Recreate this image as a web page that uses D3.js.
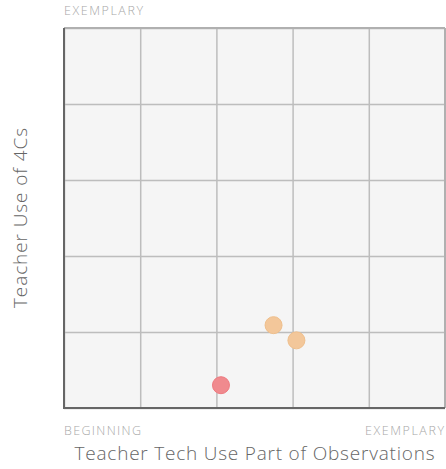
<!DOCTYPE html>
<html>
<head>
<meta charset="utf-8">
<script src="https://cdn.jsdelivr.net/npm/d3@7"></script>
<style>
  html, body { margin: 0; padding: 0; background: #ffffff; }
  svg { display: block; font-family: "Open Sans", Lato, sans-serif; }
</style>
</head>
<body>
<svg id="chart" width="446" height="469"></svg>
<script>
// ---- data ----
const pointNames = ["Observation A", "Observation B", "Observation C"];
const techUse   = [2.06, 2.75, 3.05];   // x: Teacher Tech Use Part of Observations
const use4Cs    = [0.30, 1.09, 0.89];   // y: Teacher Use of 4Cs
const levels    = ["low", "mid", "mid"];
const levelColors = { low: "#f08a8e", mid: "#f3c79a" };
const levelStrokes = { low: "#ee7a80", mid: "#efbf8c" };
const gridTicks = [0, 1, 2, 3, 4, 5];
const xEndLabels = ["BEGINNING", "EXEMPLARY"];
const yTopLabel = "EXEMPLARY";
const xTitle = "Teacher Tech Use Part of Observations";
const yTitle = "Teacher Use of 4Cs";

// ---- layout ----
const svg = d3.select("#chart");
const pL = 64, pR = 445, pT = 28, pB = 408;

const x = d3.scaleLinear().domain([0, 5]).range([pL, pR]);
const y = d3.scaleLinear().domain([0, 5]).range([pB, pT]);

// background
svg.append("rect")
  .attr("x", pL).attr("y", pT)
  .attr("width", pR - pL).attr("height", pB - pT)
  .attr("fill", "#f5f5f5");

// grid via axes
const gx = svg.append("g")
  .attr("transform", `translate(0,${pB})`)
  .call(d3.axisBottom(x).tickValues(gridTicks).tickSize(-(pB - pT)).tickFormat(""));
const gy = svg.append("g")
  .attr("transform", `translate(${pL},0)`)
  .call(d3.axisLeft(y).tickValues(gridTicks).tickSize(-(pR - pL)).tickFormat(""));
[gx, gy].forEach(g => {
  g.select(".domain").remove();
  g.selectAll(".tick line").attr("stroke", "#bdbdbd").attr("stroke-width", 1.5);
});

// outer border (top/right lighter)
svg.append("line").attr("x1", pL).attr("x2", pR).attr("y1", pT).attr("y2", pT)
  .attr("stroke", "#b0b0b0").attr("stroke-width", 2);
svg.append("line").attr("x1", pR).attr("x2", pR).attr("y1", pT).attr("y2", pB)
  .attr("stroke", "#b0b0b0").attr("stroke-width", 2);
// left / bottom axis lines
svg.append("line").attr("x1", pL).attr("x2", pL).attr("y1", pT).attr("y2", pB + 1)
  .attr("stroke", "#666").attr("stroke-width", 2);
svg.append("line").attr("x1", pL - 1).attr("x2", pR).attr("y1", pB).attr("y2", pB)
  .attr("stroke", "#666").attr("stroke-width", 2);

// points
const pts = pointNames.map((n, i) => ({ name: n, x: techUse[i], y: use4Cs[i], level: levels[i] }));
svg.append("g").selectAll("circle").data(pts).join("circle")
  .attr("cx", d => x(d.x)).attr("cy", d => y(d.y)).attr("r", 8.5)
  .attr("fill", d => levelColors[d.level])
  .attr("stroke", d => levelStrokes[d.level])
  .attr("stroke-width", 1);

// small end labels
const small = { size: 12.5, weight: 300, fill: "#a8a8a8" };
svg.append("text").attr("x", pL).attr("y", 15)
  .attr("font-size", small.size).attr("font-weight", small.weight).attr("fill", small.fill)
  .attr("textLength", 79).attr("lengthAdjust", "spacing").text(yTopLabel);
svg.append("text").attr("x", pL).attr("y", 435)
  .attr("font-size", small.size).attr("font-weight", small.weight).attr("fill", small.fill)
  .attr("textLength", 77).attr("lengthAdjust", "spacing").text(xEndLabels[0]);
svg.append("text").attr("x", pR - 1).attr("y", 435).attr("text-anchor", "end")
  .attr("font-size", small.size).attr("font-weight", small.weight).attr("fill", small.fill)
  .attr("textLength", 79).attr("lengthAdjust", "spacing").text(xEndLabels[1]);

// titles
svg.append("text").attr("x", (pL + pR) / 2).attr("y", 460)
  .attr("text-anchor", "middle").attr("font-size", 19).attr("font-weight", 300).attr("fill", "#666")
  .attr("textLength", 360).attr("lengthAdjust", "spacing")
  .text(xTitle);
svg.append("text")
  .attr("transform", `translate(27,${(pT + pB) / 2}) rotate(-90)`)
  .attr("text-anchor", "middle").attr("font-size", 19).attr("font-weight", 300).attr("fill", "#666")
  .attr("textLength", 180).attr("lengthAdjust", "spacing")
  .text(yTitle);
</script>
</body>
</html>
